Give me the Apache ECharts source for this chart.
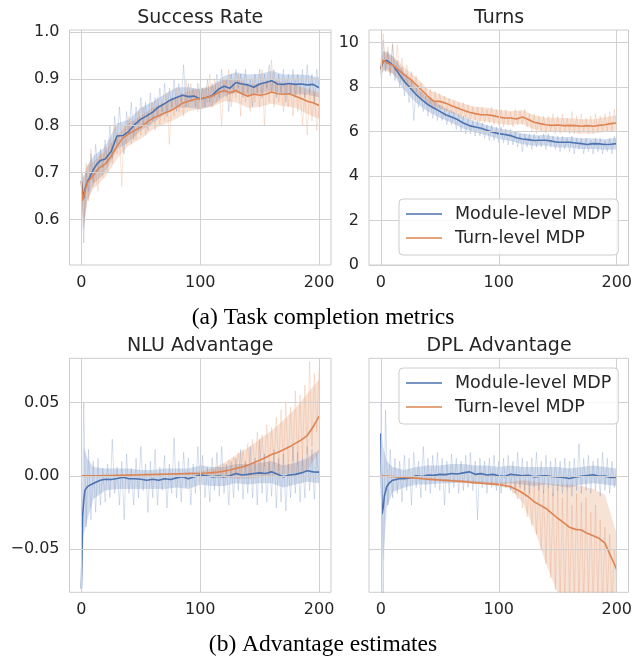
<!DOCTYPE html>
<html>
<head>
<meta charset="utf-8">
<script src="https://cdn.jsdelivr.net/npm/echarts@6/dist/echarts.min.js"></script>
<style>
html,body{margin:0;padding:0;background:#fff;}
#c{width:635px;height:658px;}
</style>
</head>
<body>
<div id="c"></div>
<script>
// ---------- x positions ----------
const stepsSmooth = [0,1,2,3,5,7,10,13,16,20,25,30,35,40,45,50,55,60,65,70,75,80,85,90,95,100,105,110,115,120,125,130,135,140,145,150,155,160,165,170,175,180,185,190,195,200];
const stepsRaw = [0,2,4,6,8,10,12,14,16,18,20,22,24,26,28,30,32,34,36,38,40,42,44,46,48,50,52,54,56,58,60,62,64,66,68,70,72,74,76,78,80,82,84,86,88,90,92,94,96,98,100,102,104,106,108,110,112,114,116,118,120,122,124,126,128,130,132,134,136,138,140,142,144,146,148,150,152,154,156,158,160,162,164,166,168,170,172,174,176,178,180,182,184,186,188,190,192,194,196,198,200];
const stepsBand = [0,2,5,10,20,30,40,50,60,70,80,90,100,110,120,130,140,150,160,170,180,190,200];

// ---------- tick labels ----------
const xTicks = [0,100,200];
const srTicks = [0.6,0.7,0.8,0.9,1.0];
const tnTicks = [0,2,4,6,8,10];
const advTicks = [-0.05,0,0.05];

// ---------- Success Rate ----------
const srBlue = [0.683,0.66,0.645,0.665,0.68,0.69,0.706,0.718,0.726,0.729,0.745,0.778,0.779,0.788,0.803,0.814,0.821,0.829,0.84,0.847,0.855,0.86,0.865,0.862,0.863,0.857,0.86,0.864,0.877,0.884,0.88,0.892,0.889,0.887,0.882,0.889,0.892,0.896,0.889,0.888,0.89,0.888,0.889,0.887,0.888,0.881];
const srOrange = [0.68,0.64,0.637,0.66,0.678,0.685,0.694,0.705,0.712,0.718,0.735,0.757,0.774,0.783,0.79,0.797,0.807,0.816,0.821,0.827,0.832,0.839,0.848,0.852,0.856,0.858,0.86,0.863,0.87,0.875,0.87,0.875,0.868,0.863,0.867,0.865,0.867,0.872,0.868,0.867,0.868,0.863,0.858,0.852,0.849,0.843];
const srBlueRaw = [0.68,0.55,0.70,0.66,0.74,0.68,0.76,0.70,0.75,0.71,
  0.77,0.72,0.80,0.73,0.82,0.76,0.84,0.77,0.74,0.83,
  0.78,0.85,0.77,0.84,0.79,0.86,0.80,0.85,0.79,0.87,
  0.81,0.86,0.82,0.88,0.83,0.89,0.82,0.88,0.84,0.90,
  0.83,0.89,0.85,0.93,0.84,0.89,0.85,0.88,0.84,0.89,
  0.85,0.88,0.84,0.90,0.85,0.89,0.86,0.91,0.86,0.92,
  0.87,0.90,0.83,0.91,0.87,0.92,0.88,0.91,0.86,0.92,
  0.87,0.90,0.84,0.91,0.87,0.92,0.86,0.91,0.88,0.93,
  0.87,0.92,0.86,0.91,0.87,0.92,0.85,0.91,0.87,0.92,
  0.86,0.91,0.87,0.92,0.86,0.93,0.87,0.91,0.85,0.92,
  0.88];
const srOrangeRaw = [0.68,0.58,0.72,0.64,0.75,0.67,0.70,0.66,0.74,0.69,
  0.76,0.70,0.77,0.72,0.80,0.74,0.78,0.67,0.80,0.76,
  0.82,0.76,0.81,0.77,0.83,0.78,0.84,0.78,0.83,0.80,
  0.85,0.79,0.86,0.80,0.85,0.81,0.87,0.76,0.86,0.82,
  0.88,0.83,0.87,0.82,0.90,0.84,0.89,0.85,0.88,0.83,
  0.89,0.84,0.88,0.85,0.91,0.84,0.90,0.85,0.88,0.80,
  0.90,0.86,0.92,0.84,0.89,0.86,0.91,0.82,0.90,0.85,
  0.89,0.83,0.90,0.85,0.89,0.84,0.92,0.80,0.90,0.85,
  0.94,0.84,0.90,0.85,0.89,0.83,0.90,0.84,0.89,0.82,
  0.90,0.83,0.88,0.80,0.87,0.78,0.88,0.81,0.87,0.79,
  0.84];
const srBlueLo = [0.66,0.59,0.64,0.675,0.70,0.75,0.765,0.79,0.805,0.825,0.838,0.838,0.835,0.842,0.862,0.87,0.865,0.868,0.875,0.867,0.867,0.866,0.86];
const srBlueHi = [0.70,0.69,0.715,0.735,0.755,0.805,0.813,0.838,0.851,0.867,0.882,0.882,0.877,0.884,0.906,0.914,0.909,0.91,0.917,0.909,0.909,0.908,0.902];
const srOrangeLo = [0.65,0.58,0.64,0.665,0.69,0.73,0.758,0.772,0.792,0.803,0.815,0.83,0.836,0.84,0.852,0.85,0.838,0.84,0.847,0.842,0.838,0.825,0.815];
const srOrangeHi = [0.71,0.69,0.715,0.723,0.746,0.78,0.806,0.82,0.838,0.849,0.861,0.874,0.88,0.886,0.898,0.9,0.888,0.89,0.897,0.892,0.888,0.879,0.871];

// ---------- Turns ----------
const tnBlue = [8.85,9.0,9.15,9.2,9.2,9.12,9.0,8.78,8.55,8.25,7.96,7.66,7.43,7.21,7.06,6.91,6.76,6.66,6.54,6.39,6.27,6.21,6.15,6.06,5.97,5.91,5.87,5.82,5.72,5.67,5.64,5.6,5.61,5.61,5.57,5.52,5.52,5.52,5.49,5.46,5.42,5.46,5.45,5.42,5.43,5.46];
const tnOrange = [8.8,9.1,9.22,9.15,9.1,9.05,9.0,8.87,8.73,8.55,8.36,8.1,7.85,7.58,7.36,7.36,7.28,7.16,7.06,6.96,6.87,6.81,6.76,6.76,6.72,6.66,6.61,6.61,6.57,6.66,6.54,6.42,6.36,6.31,6.28,6.3,6.27,6.28,6.27,6.24,6.27,6.24,6.28,6.31,6.36,6.39];
const tnBlueRaw = [8.6,10.1,8.7,9.6,8.5,9.9,8.3,9.2,8.0,8.9,
  7.6,8.6,7.3,8.3,6.5,8.0,7.1,7.8,6.9,7.6,
  6.7,7.5,6.6,7.3,6.5,7.2,6.5,7.0,6.3,6.9,
  6.3,6.9,6.1,6.8,6.0,6.7,5.9,6.6,5.9,6.5,
  5.8,6.5,5.8,6.4,5.7,6.3,5.6,6.3,5.6,6.2,
  5.5,6.2,5.5,6.1,5.4,6.1,5.4,6.0,5.3,5.9,
  5.1,5.9,5.3,5.9,5.2,5.9,5.3,5.8,5.3,5.9,
  5.2,5.9,5.3,5.8,5.2,5.8,5.1,5.8,5.2,5.7,
  5.1,5.8,5.0,5.7,5.2,5.7,5.0,5.7,5.1,5.6,
  5.0,5.7,5.1,5.7,5.0,5.6,5.1,5.7,5.0,5.8,
  5.3];
const tnOrangeRaw = [9.0,10.4,8.9,9.8,8.6,10.0,8.7,9.9,8.5,9.3,
  8.2,9.0,8.0,8.7,7.8,8.5,7.6,8.2,7.5,8.0,
  7.2,7.9,7.0,7.8,7.0,7.7,7.0,7.6,6.9,7.5,
  6.8,7.4,6.8,7.3,6.6,7.3,6.6,7.2,6.5,7.1,
  6.5,7.1,6.4,7.1,6.4,7.0,6.4,7.1,6.3,7.0,
  6.3,7.0,6.2,7.0,6.3,6.9,6.2,7.0,6.3,6.9,
  6.3,7.0,6.2,6.8,6.0,6.8,5.9,6.7,6.0,6.7,
  5.9,6.7,6.0,6.8,5.9,6.7,5.9,6.8,6.0,6.6,
  5.9,6.9,5.9,6.7,5.9,6.8,6.0,6.6,5.9,6.7,
  5.9,6.8,6.0,6.7,6.0,6.8,6.0,6.9,6.0,7.0,
  6.2];
const tnBlueLo = [8.5,8.7,8.8,8.6,7.85,7.3,6.9,6.62,6.4,6.13,5.96,5.82,5.67,5.58,5.43,5.36,5.37,5.28,5.28,5.22,5.22,5.18,5.2];
const tnBlueHi = [9.2,9.6,9.6,9.4,8.65,8.0,7.52,7.2,6.92,6.65,6.46,6.3,6.15,6.06,5.91,5.84,5.85,5.76,5.76,5.7,5.7,5.66,5.72];
const tnOrangeLo = [8.45,8.8,8.7,8.6,8.2,7.75,7.25,7.05,6.86,6.66,6.5,6.45,6.35,6.3,6.35,6.1,6.0,5.98,5.96,5.92,5.92,5.98,6.05];
const tnOrangeHi = [9.15,9.65,9.5,9.4,8.9,8.45,7.9,7.67,7.46,7.26,7.12,7.07,6.97,6.92,6.97,6.74,6.62,6.62,6.6,6.56,6.56,6.64,6.73];

// ---------- NLU Advantage ----------
const nluBlue = [-0.077,-0.028,-0.0166,-0.0098,-0.0075,-0.0064,-0.0052,-0.004,-0.003,-0.0023,-0.0025,-0.0018,-0.001,-0.002,-0.002,-0.0023,-0.003,-0.0023,-0.003,-0.002,-0.0025,-0.0014,-0.0007,-0.002,-0.0007,0.0005,0.0,-0.0007,-0.0002,-0.0007,0.0,0.0016,0.0005,0.001,0.0016,0.002,0.0016,0.0027,0.001,-0.0007,0.0005,0.001,0.002,0.0034,0.0027,0.0025];
const nluOrange = [0,0,0,0,0,0,0,0,0,0.0001,0.0002,0.0003,0.0004,0.0005,0.0006,0.0007,0.0008,0.0009,0.001,0.0011,0.0012,0.0013,0.0014,0.0015,0.0016,0.0017,0.0019,0.0022,0.0026,0.0032,0.004,0.005,0.006,0.0073,0.009,0.0107,0.0125,0.0146,0.016,0.0178,0.0198,0.0222,0.0245,0.0275,0.0335,0.0408];
const nluBlueRaw = [-0.078,0.05,-0.035,0.018,-0.03,0.01,-0.025,0.012,-0.02,0.005,
  -0.018,0.008,-0.015,0.025,-0.012,0.006,-0.02,0.01,-0.03,0.015,
  -0.012,0.005,-0.02,0.012,-0.015,0.02,-0.01,0.008,-0.025,0.01,
  -0.015,0.018,-0.02,0.006,-0.01,0.014,-0.022,0.008,-0.012,0.026,
  -0.015,0.01,-0.018,0.016,-0.008,0.012,-0.02,0.008,-0.012,0.02,
  -0.01,0.014,-0.015,0.006,-0.018,0.012,-0.01,0.016,-0.014,0.02,
  -0.012,0.008,-0.02,0.01,-0.015,0.012,-0.01,0.018,-0.016,0.01,
  -0.012,0.02,-0.015,0.012,-0.02,0.025,-0.012,0.015,-0.018,0.01,
  -0.014,0.018,-0.022,0.012,-0.018,0.015,-0.024,0.008,-0.015,0.02,
  -0.012,0.016,-0.018,0.012,-0.015,0.02,-0.01,0.018,-0.016,0.015,
  -0.005];
const nluOrangeRaw = [0,0,0,0,0,0,0,0,0.0001,0.0001,
  0.0001,0.0001,0.0002,0.0002,0.0003,0.0003,0.0003,0.0004,0.0004,0.0004,
  0.0005,0.0005,0.0005,0.0006,0.0006,0.0007,0.0007,0.0008,0.0008,0.0009,
  0.0009,0.001,0.001,0.001,0.0011,0.0011,0.0012,0.0012,0.0012,0.0013,
  0.0013,0.0014,0.0014,0.0014,0.0015,0.0015,0.0016,0.0016,0.0017,0.0017,
  0.0018,0.0018,0.002,0.0015,0.0028,0.0012,0.004,0.001,0.006,0.0,
  0.008,0.001,0.011,-0.001,0.013,0.002,0.016,0.0,0.018,0.003,
  0.022,-0.001,0.025,0.004,0.03,0.002,0.028,0.006,0.035,0.003,
  0.033,0.008,0.04,0.004,0.045,0.007,0.05,0.005,0.047,0.01,
  0.058,0.008,0.055,0.012,0.062,0.015,0.078,0.02,0.07,0.03,
  0.074];
const nluBlueLo = [-0.079,-0.04,-0.03,-0.016,-0.01,-0.009,-0.009,-0.009,-0.009,-0.009,-0.008,-0.009,-0.006,-0.007,-0.007,-0.005,-0.006,-0.005,-0.005,-0.008,-0.006,-0.004,-0.005];
const nluBlueHi = [-0.07,0.02,0.012,0.006,0.005,0.005,0.005,0.004,0.004,0.005,0.005,0.005,0.007,0.006,0.006,0.008,0.008,0.009,0.01,0.007,0.009,0.012,0.018];
const nluOrangeLo = [0,0,0,0,0,0.0001,0.0002,0.0003,0.0004,0.0005,0.0006,0.0007,0.0008,0.0005,-0.001,-0.002,-0.002,-0.001,0.0,0.001,0.002,0.004,0.016];
const nluOrangeHi = [0,0,0,0,0.0002,0.0005,0.0008,0.0011,0.0014,0.0017,0.002,0.0024,0.003,0.005,0.009,0.014,0.019,0.025,0.031,0.038,0.046,0.056,0.066];

// ---------- DPL Advantage ----------
const dplBlue = [0.029,-0.026,-0.022,-0.014,-0.0075,-0.005,-0.003,-0.0025,-0.002,-0.002,-0.0015,0.0,-0.0005,0.0005,0.0003,0.001,0.0008,0.0016,0.0012,0.002,0.0027,0.001,0.0015,0.0005,0.001,0.0,-0.0005,0.001,0.0005,0.0,0.0003,-0.0007,-0.0002,0.0,-0.0005,-0.0007,-0.0012,-0.0018,-0.0008,-0.0003,0.0002,0.0007,-0.0003,-0.0002,-0.0012,-0.001];
const dplOrange = [0,0,-0.0001,-0.0002,-0.0003,-0.0004,-0.0005,-0.0007,-0.0008,-0.001,-0.0013,-0.0016,-0.002,-0.0023,-0.0026,-0.0029,-0.0031,-0.0034,-0.0037,-0.004,-0.0044,-0.0048,-0.0051,-0.0054,-0.0057,-0.006,-0.0066,-0.0075,-0.0093,-0.0116,-0.0143,-0.0177,-0.02,-0.0223,-0.0257,-0.029,-0.032,-0.0352,-0.0366,-0.037,-0.0393,-0.041,-0.0427,-0.046,-0.055,-0.064];
const dplBlueRaw = [0.05,-0.085,0.045,-0.02,0.018,-0.015,0.012,-0.012,0.01,-0.018,
  0.014,-0.01,0.012,-0.02,0.016,-0.008,0.01,-0.015,0.02,-0.01,
  0.012,-0.012,0.014,-0.008,0.016,-0.01,0.012,-0.02,0.01,-0.012,
  0.015,-0.008,0.012,-0.012,0.01,-0.01,0.014,-0.008,0.016,-0.01,
  0.01,-0.03,0.012,-0.008,0.01,-0.012,0.012,-0.008,0.014,-0.01,
  0.01,-0.012,0.012,-0.008,0.014,-0.01,0.01,-0.012,0.016,-0.008,
  0.012,-0.01,0.01,-0.012,0.012,-0.008,0.016,-0.01,0.01,-0.012,
  0.014,-0.008,0.01,-0.014,0.012,-0.01,0.01,-0.012,0.012,-0.01,
  0.01,-0.014,0.012,-0.01,0.022,-0.012,0.012,-0.01,0.014,-0.012,
  0.01,-0.01,0.012,-0.014,0.016,-0.01,0.012,-0.012,0.01,-0.008,
  0.005];
const dplOrangeRaw = [0,-0.0001,-0.0002,-0.0003,-0.0004,-0.0005,-0.0006,-0.0007,-0.0008,-0.0009,
  -0.001,-0.0011,-0.0012,-0.0013,-0.0014,-0.0015,-0.0016,-0.0017,-0.0018,-0.0019,
  -0.002,-0.0021,-0.0022,-0.0023,-0.0024,-0.0025,-0.0026,-0.0027,-0.0028,-0.0029,
  -0.003,-0.0031,-0.0032,-0.0033,-0.0034,-0.0035,-0.0036,-0.0037,-0.0038,-0.0039,
  -0.004,-0.0042,-0.0044,-0.0045,-0.0047,-0.0049,-0.005,-0.0052,-0.0054,-0.0056,
  -0.0058,-0.006,-0.0064,-0.0062,-0.0072,-0.006,-0.012,-0.005,-0.016,-0.004,
  -0.022,-0.006,-0.028,-0.005,-0.034,-0.008,-0.04,-0.006,-0.05,-0.01,
  -0.06,-0.007,-0.07,-0.012,-0.078,-0.008,-0.085,-0.015,-0.09,-0.01,
  -0.085,-0.02,-0.09,-0.012,-0.088,-0.018,-0.09,-0.015,-0.085,-0.025,
  -0.09,-0.02,-0.088,-0.03,-0.09,-0.035,-0.085,-0.04,-0.09,-0.05,
  -0.07];
const dplBlueLo = [0.0,-0.06,-0.022,-0.011,-0.008,-0.006,-0.006,-0.005,-0.005,-0.004,-0.005,-0.006,-0.006,-0.005,-0.006,-0.007,-0.006,-0.007,-0.008,-0.006,-0.005,-0.006,-0.007];
const dplBlueHi = [0.035,0.02,0.01,0.006,0.004,0.006,0.007,0.007,0.008,0.008,0.007,0.007,0.006,0.007,0.006,0.006,0.006,0.006,0.005,0.006,0.007,0.006,0.005];
const dplOrangeLo = [0,-0.0002,-0.0005,-0.001,-0.0015,-0.002,-0.003,-0.0035,-0.0042,-0.005,-0.0055,-0.006,-0.007,-0.009,-0.018,-0.036,-0.06,-0.08,-0.09,-0.1,-0.1,-0.1,-0.1];
const dplOrangeHi = [0,0.0002,0,-0.0003,-0.0005,-0.001,-0.0015,-0.002,-0.0025,-0.003,-0.0035,-0.004,-0.0045,-0.004,-0.003,-0.004,-0.005,-0.006,-0.006,-0.007,-0.009,-0.013,-0.04];

// ---------- build chart ----------
const BLUE = '#4c72b0', ORANGE = '#dd8452';
const TXT = '#262626', GRIDC = '#d0d0d0';
const FONT = 'DejaVu Sans';
const NAME_B = 'Module-level MDP', NAME_O = 'Turn-level MDP';

const pairs = (xs, ys) => xs.map((x, i) => [x, ys[i]]);

function gridLines(gi, yt) {
  return {
    type: 'line', name: 'grid' + gi, xAxisIndex: gi, yAxisIndex: gi, data: [],
    silent: true, z: 1,
    markLine: {
      silent: true, animation: false, symbol: ['none', 'none'],
      label: { show: false },
      lineStyle: { color: GRIDC, width: 1, type: 'solid' },
      emphasis: { disabled: true },
      data: xTicks.map(v => ({ xAxis: v })).concat(yt.map(v => ({ yAxis: v })))
    }
  };
}
// shaded band: one polygon through the axis scales (api.coord)
function band(gi, key, lo, hi, color) {
  const rows = stepsBand.map((x, i) => [x, lo[i], hi[i]]);
  return {
    type: 'custom', name: key, xAxisIndex: gi, yAxisIndex: gi, silent: true, z: 2, clip: true,
    encode: { x: 0, y: [1, 2] },
    data: rows,
    renderItem: function (params, api) {
      if (params.dataIndex !== 0) return null;
      const top = rows.map(r => api.coord([r[0], r[2]]));
      const bot = rows.slice().reverse().map(r => api.coord([r[0], r[1]]));
      const cs = params.coordSys;
      return {
        type: 'polygon',
        shape: { points: top.concat(bot) },
        style: { fill: color, opacity: 0.24 },
        clipPath: { type: 'rect', shape: { x: cs.x, y: cs.y, width: cs.width, height: cs.height } }
      };
    }
  };
}
function raw(gi, key, ys, color) {
  return { type: 'line', name: key, xAxisIndex: gi, yAxisIndex: gi, symbol: 'none', silent: true,
    lineStyle: { color: color, width: 1, opacity: 0.22 }, data: pairs(stepsRaw, ys), z: 3 };
}
function main(gi, name, ys, color) {
  return { type: 'line', name: name, xAxisIndex: gi, yAxisIndex: gi, symbol: 'none', showSymbol: false, silent: true,
    color: color, itemStyle: { color: color }, lineStyle: { color: color, width: 1.6 }, data: pairs(stepsSmooth, ys), z: 4 };
}
function panel(gi, yt, d) {
  return [gridLines(gi, yt),
    band(gi, 'bb' + gi, d.bLo, d.bHi, BLUE),
    band(gi, 'ob' + gi, d.oLo, d.oHi, ORANGE),
    raw(gi, 'br' + gi, d.bRaw, BLUE), raw(gi, 'or' + gi, d.oRaw, ORANGE),
    main(gi, NAME_B, d.b, BLUE), main(gi, NAME_O, d.o, ORANGE)];
}

const grids = [
  { left: 69.5, top: 30, width: 261.5, height: 235 },
  { left: 369, top: 30, width: 260, height: 235 },
  { left: 69.5, top: 358.3, width: 261.5, height: 234 },
  { left: 369, top: 358.3, width: 260, height: 234 }
].map(g => Object.assign(g, { show: true, borderColor: '#cccccc', borderWidth: 1, backgroundColor: '#fff', containLabel: false }));

const labelBase = { color: TXT, fontSize: 16, fontFamily: FONT };
const xAxes = [0, 1, 2, 3].map(i => ({
  type: 'value', gridIndex: i, min: -10, max: 210,
  axisLine: { show: false }, axisTick: { show: false }, splitLine: { show: false },
  axisLabel: Object.assign({ customValues: xTicks, margin: 10, formatter: v => String(v) }, labelBase)
}));
const fmtAdv = v => (v < 0 ? '\u2212' : '') + Math.abs(v).toFixed(2);
const yAxes = [
  { gridIndex: 0, min: 0.503, max: 1.004, ticks: srTicks, fmt: v => v.toFixed(1), show: true },
  { gridIndex: 1, min: 0, max: 10.57, ticks: tnTicks, fmt: v => String(v), show: true },
  { gridIndex: 2, min: -0.0796, max: 0.0803, ticks: advTicks, fmt: fmtAdv, show: true },
  { gridIndex: 3, min: -0.0796, max: 0.0803, ticks: advTicks, fmt: fmtAdv, show: false }
].map(a => ({
  type: 'value', gridIndex: a.gridIndex, min: a.min, max: a.max,
  axisLine: { show: false }, axisTick: { show: false }, splitLine: { show: false },
  axisLabel: Object.assign({ show: a.show, customValues: a.ticks, margin: 10, formatter: a.fmt }, labelBase)
}));

const series = []
  .concat(panel(0, srTicks, { b: srBlue, o: srOrange, bRaw: srBlueRaw, oRaw: srOrangeRaw, bLo: srBlueLo, bHi: srBlueHi, oLo: srOrangeLo, oHi: srOrangeHi }))
  .concat(panel(1, tnTicks, { b: tnBlue, o: tnOrange, bRaw: tnBlueRaw, oRaw: tnOrangeRaw, bLo: tnBlueLo, bHi: tnBlueHi, oLo: tnOrangeLo, oHi: tnOrangeHi }))
  .concat(panel(2, advTicks, { b: nluBlue, o: nluOrange, bRaw: nluBlueRaw, oRaw: nluOrangeRaw, bLo: nluBlueLo, bHi: nluBlueHi, oLo: nluOrangeLo, oHi: nluOrangeHi }))
  .concat(panel(3, advTicks, { b: dplBlue, o: dplOrange, bRaw: dplBlueRaw, oRaw: dplOrangeRaw, bLo: dplBlueLo, bHi: dplBlueHi, oLo: dplOrangeLo, oHi: dplOrangeHi }));

const legendBase = {
  data: [{ name: NAME_B, icon: 'rect' }, { name: NAME_O, icon: 'rect' }],
  orient: 'vertical', left: 399, z: 50, zlevel: 0,
  backgroundColor: 'rgba(255,255,255,0.85)', borderColor: '#cccccc', borderWidth: 1, borderRadius: 4,
  padding: [5, 7, 7, 7], itemGap: 4, itemWidth: 36, itemHeight: 1.6,
  selectedMode: false,
  textStyle: { color: TXT, fontSize: 17.5, fontFamily: FONT, padding: [0, 0, 0, 8], lineHeight: 20 }
};

function txt(x, y, text, font, fill) {
  return { type: 'text', x: x, y: y, silent: true,
    style: { text: text, font: font, fill: fill, align: 'center', verticalAlign: 'middle', textAlign: 'center', textVerticalAlign: 'middle' } };
}

const chart = echarts.init(document.getElementById('c'), null, { renderer: 'canvas' });
chart.setOption({
  animation: false,
  backgroundColor: '#ffffff',
  grid: grids,
  xAxis: xAxes,
  yAxis: yAxes,
  legend: [
    Object.assign({}, legendBase, { top: 199 }),
    Object.assign({}, legendBase, { top: 368 })
  ],
  graphic: [
    txt(200.25, 18.5, 'Success Rate', '19px "DejaVu Sans"', TXT),
    txt(499, 18.5, 'Turns', '19px "DejaVu Sans"', TXT),
    txt(200.25, 346.5, 'NLU Advantage', '19px "DejaVu Sans"', TXT),
    txt(499, 346.5, 'DPL Advantage', '19px "DejaVu Sans"', TXT),
    txt(323, 318, '(a) Task completion metrics', '23.5px "Liberation Serif"', '#000'),
    txt(323, 645, '(b) Advantage estimates', '23.5px "Liberation Serif"', '#000')
  ],
  series: series
});
</script>
</body>
</html>
